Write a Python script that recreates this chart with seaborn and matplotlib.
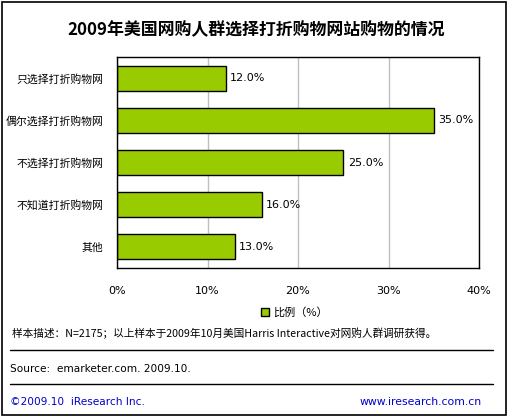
import matplotlib
matplotlib.use("Agg")
import matplotlib.pyplot as plt
import seaborn as sns
import pandas as pd
from matplotlib.patches import Rectangle
from matplotlib.lines import Line2D

categories = ["只选择打折购物网", "偶尔选择打折购物网", "不选择打折购物网", "不知道打折购物网", "其他"]
values = [12.0, 35.0, 25.0, 16.0, 13.0]
x_ticks = [0, 10, 20, 30, 40]
x_tick_labels = ["0%", "10%", "20%", "30%", "40%"]
title = "2009年美国网购人群选择打折购物网站购物的情况"
legend_label = "比例（%）"
note = "样本描述：N=2175；以上样本于2009年10月美国Harris Interactive对网购人群调研获得。"
source = "Source:  emarketer.com. 2009.10."
footer_left = "©2009.10  iResearch Inc."
footer_right = "www.iresearch.com.cn"

sns.set_theme(style="white")
plt.rcParams['font.family'] = ['Noto Sans CJK SC', 'DejaVu Sans']
plt.rcParams['text.color'] = 'black'
plt.rcParams['xtick.color'] = 'black'
plt.rcParams['ytick.color'] = 'black'

W, H = 508, 417
fig = plt.figure(figsize=(W / 100, H / 100), dpi=100)
fig.patch.set_facecolor("white")

ax = fig.add_axes([117 / W, 1 - 268 / H, (479 - 117) / W, (268 - 57) / H])
df = pd.DataFrame({"cat": categories, "val": values})
sns.barplot(data=df, x="val", y="cat", orient="h", color="#99cc00",
            saturation=1, edgecolor="black", linewidth=1.0, width=0.59, ax=ax)
ax.set_xlim(0, 40)
ax.set_ylim(4.5, -0.5)
ax.set_xticks(x_ticks)
ax.set_xticklabels(x_tick_labels, fontsize=8, family=['DejaVu Sans'])
ax.tick_params(axis="x", length=0, pad=13)
ax.tick_params(axis="y", length=0, pad=10, labelsize=7.8)
ax.set_xlabel("")
ax.set_ylabel("")
ax.grid(axis="x", color="#c0c0c0", linewidth=1.0)
ax.set_axisbelow(True)
for s in ax.spines.values():
    s.set_visible(True)
    s.set_color("black")
    s.set_linewidth(1.0)

for i, v in enumerate(values):
    ax.text(v + 0.5, i, f"{v:.1f}%", va="center", ha="left", fontsize=8,
            family=['DejaVu Sans'])

# title
fig.text(0.505, 1 - 30 / H, title, ha="center", va="center", fontsize=12.2,
         fontweight="bold")

# legend
fig.patches.append(Rectangle((261 / W, 1 - 316 / H), 8 / W, 8 / H,
                             transform=fig.transFigure, facecolor="#99cc00",
                             edgecolor="black", linewidth=1.0))
fig.text(273 / W, 1 - 312 / H, legend_label, ha="left", va="center", fontsize=8)

# note
fig.text(12 / W, 1 - 333 / H, note, ha="left", va="center", fontsize=7.7)

# separators
for yy in (350, 384):
    fig.add_artist(Line2D([10 / W, 493 / W], [1 - yy / H, 1 - yy / H],
                          transform=fig.transFigure, color="black", linewidth=1.0))

fig.text(10 / W, 1 - 369 / H, source, ha="left", va="center", fontsize=7.6,
         family=['DejaVu Sans'])
fig.text(10 / W, 1 - 402 / H, footer_left, ha="left", va="center", fontsize=7.6,
         color="#0000cc", family=['DejaVu Sans'])
fig.text(482 / W, 1 - 402 / H, footer_right, ha="right", va="center", fontsize=7.8,
         color="#0000cc", family=['DejaVu Sans'])

# outer border
fig.patches.append(Rectangle((1.5 / W, 1 - 414.5 / H), 504 / W, 413 / H,
                             transform=fig.transFigure, facecolor="none",
                             edgecolor="black", linewidth=1.2))

fig.savefig("out.png", dpi=100, facecolor="white")
